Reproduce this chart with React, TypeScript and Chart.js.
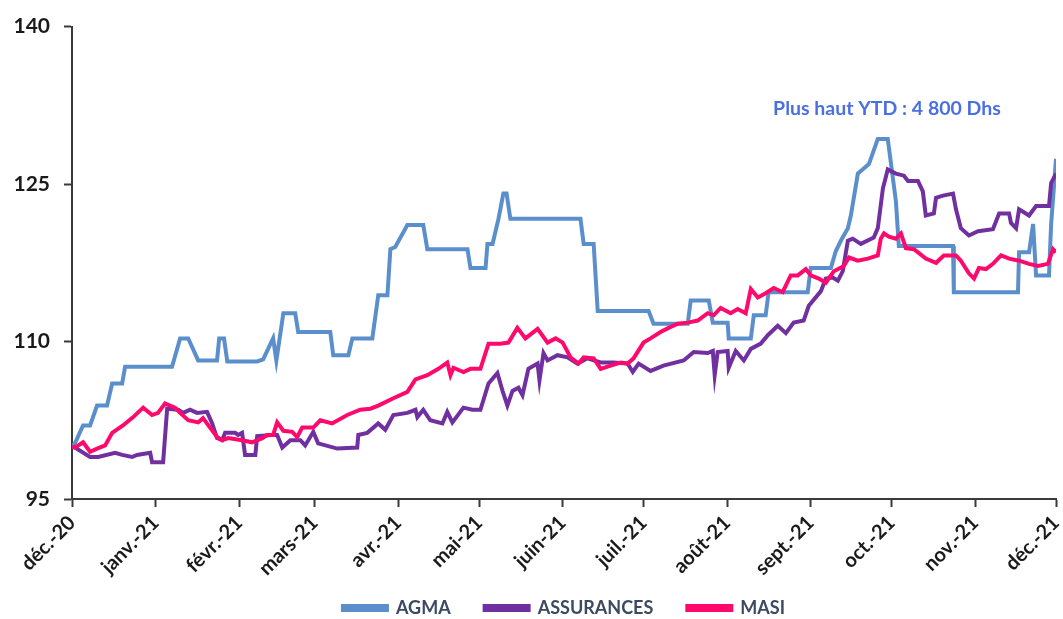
import React, { useEffect, useRef } from "react";
import { Chart, registerables } from "chart.js";

Chart.register(...registerables);

// Month ticks (day offsets from 1 Dec 2020) and labels
const monthDays = [0, 31, 62, 90, 121, 151, 182, 212, 243, 274, 304, 335, 365];
const monthLabels = ["déc.-20", "janv.-21", "févr.-21", "mars-21", "avr.-21", "mai-21", "juin-21", "juil.-21", "août-21", "sept.-21", "oct.-21", "nov.-21", "déc.-21"];
const yTicks = [95, 110, 125, 140];

const agmaDays = [0, 1.1, 4.1, 6.7, 9.3, 13.0, 14.9, 18.6, 19.7, 37.1, 40.1, 43.1, 46.8, 53.8, 54.6, 56.4, 57.6, 68.7, 70.9, 74.6, 75.8, 78.4, 82.8, 83.9, 95.8, 96.9, 102.5, 104.0, 111.4, 113.6, 117.0, 118.1, 119.9, 124.4, 130.3, 131.8, 146.7, 147.8, 153.4, 154.1, 156.0, 158.2, 160.0, 161.2, 162.6, 188.6, 189.8, 193.5, 195.0, 213.9, 215.7, 228.4, 229.5, 236.2, 237.7, 243.2, 243.6, 251.8, 252.9, 257.3, 258.4, 272.9, 274.0, 281.5, 283.3, 285.2, 287.8, 288.9, 291.5, 295.6, 298.9, 302.6, 305.6, 306.7, 326.8, 327.1, 350.9, 351.3, 355.0, 356.5, 357.6, 362.4, 363.2, 365.0];
const agmaValues = [100.0, 100.3, 102.0, 102.0, 103.9, 103.9, 106.0, 106.0, 107.6, 107.6, 110.3, 110.3, 108.2, 108.2, 110.3, 110.3, 108.1, 108.1, 108.3, 110.3, 108.2, 112.7, 112.7, 110.9, 110.9, 108.7, 108.7, 110.3, 110.3, 114.4, 114.4, 118.8, 119.0, 121.1, 121.1, 118.8, 118.8, 117.0, 117.0, 119.3, 119.3, 121.7, 124.1, 124.1, 121.7, 121.7, 119.3, 119.3, 112.9, 112.9, 111.7, 111.7, 113.9, 113.9, 111.8, 111.8, 110.3, 110.3, 112.5, 112.5, 114.7, 114.7, 117.0, 117.0, 118.6, 119.6, 120.8, 122.0, 126.0, 126.9, 129.3, 129.3, 123.4, 119.1, 119.1, 114.7, 114.7, 118.5, 118.5, 121.2, 116.3, 116.3, 121.2, 127.4];

const assurDays = [0, 1.1, 6.7, 9.7, 16.0, 18.6, 22.3, 24.1, 29.0, 29.7, 33.8, 35.3, 39.4, 41.2, 43.8, 46.4, 50.1, 52.0, 53.8, 55.7, 56.8, 60.5, 61.6, 63.1, 64.2, 68.0, 68.7, 74.3, 76.1, 78.0, 81.0, 84.7, 86.5, 89.5, 91.3, 98.4, 105.8, 106.2, 109.5, 113.6, 116.2, 119.2, 124.4, 127.4, 128.1, 130.3, 132.9, 137.4, 139.2, 141.1, 145.2, 148.5, 151.5, 154.5, 157.8, 159.7, 161.5, 163.4, 165.6, 167.1, 169.3, 172.7, 173.4, 174.9, 176.4, 180.1, 183.8, 187.5, 191.2, 196.1, 200.9, 206.1, 208.0, 210.2, 214.6, 219.4, 226.9, 230.6, 235.8, 237.7, 238.4, 239.5, 243.2, 243.6, 246.2, 249.2, 251.8, 255.5, 258.1, 261.8, 264.8, 267.7, 271.4, 273.3, 277.8, 279.6, 282.2, 284.1, 285.9, 287.8, 289.6, 292.6, 297.4, 298.9, 300.8, 302.6, 305.6, 308.6, 310.1, 313.8, 315.6, 316.7, 319.7, 320.5, 323.1, 326.8, 327.9, 329.7, 332.7, 336.1, 341.6, 343.9, 347.6, 348.3, 350.2, 351.3, 355.0, 357.6, 362.4, 363.2, 365.0];
const assurValues = [100.0, 99.9, 99.0, 99.0, 99.4, 99.2, 99.0, 99.2, 99.4, 98.5, 98.5, 103.6, 103.5, 103.2, 103.5, 103.2, 103.3, 102.2, 100.8, 100.6, 101.3, 101.3, 101.1, 101.3, 99.2, 99.2, 101.0, 101.1, 101.1, 99.9, 100.6, 100.6, 100.1, 101.4, 100.3, 99.8, 99.9, 101.1, 101.3, 102.2, 101.6, 103.0, 103.2, 103.5, 102.8, 103.5, 102.5, 102.2, 103.3, 102.3, 103.7, 103.5, 103.5, 106.0, 107.0, 105.3, 103.9, 105.3, 105.6, 104.9, 107.4, 107.9, 106.3, 108.9, 108.2, 108.7, 108.5, 107.9, 108.4, 108.0, 108.0, 107.9, 107.1, 107.9, 107.2, 107.7, 108.2, 109.0, 108.9, 109.1, 106.8, 109.0, 109.1, 107.5, 109.1, 108.2, 109.3, 109.8, 110.6, 111.5, 110.8, 111.8, 112.0, 113.4, 114.8, 116.0, 116.1, 115.8, 116.7, 119.6, 119.8, 119.3, 119.9, 120.8, 124.6, 126.4, 126.0, 125.8, 125.3, 125.3, 124.3, 122.0, 122.2, 123.7, 123.9, 124.1, 122.6, 120.8, 120.1, 120.5, 120.7, 122.2, 122.2, 121.3, 120.8, 122.6, 122.0, 122.9, 122.9, 125.1, 126.0];

const masiDays = [0, 1.1, 4.1, 6.7, 9.3, 12.3, 14.9, 18.9, 22.7, 26.4, 29.7, 31.9, 34.5, 38.2, 40.1, 43.1, 46.8, 48.6, 51.2, 53.8, 55.7, 57.9, 63.1, 66.8, 70.6, 72.4, 74.6, 76.1, 78.4, 81.7, 83.5, 85.4, 89.5, 92.1, 96.5, 102.1, 106.9, 110.7, 113.6, 119.2, 124.4, 127.4, 131.8, 135.9, 139.2, 140.4, 141.5, 145.2, 147.8, 151.5, 154.5, 158.9, 161.9, 165.2, 168.2, 172.7, 176.4, 179.4, 182.0, 184.9, 187.9, 189.8, 193.5, 196.1, 199.8, 203.5, 206.1, 208.3, 212.0, 214.6, 218.3, 221.3, 224.7, 228.4, 232.1, 235.8, 238.0, 240.6, 244.3, 246.9, 249.9, 251.8, 254.4, 257.3, 260.3, 263.6, 266.6, 269.2, 272.2, 274.0, 277.0, 279.6, 282.6, 286.3, 288.2, 291.5, 295.2, 298.9, 300.0, 301.2, 303.0, 305.6, 307.5, 309.3, 312.3, 316.7, 320.5, 323.4, 327.9, 329.7, 332.7, 334.6, 336.4, 339.0, 341.6, 344.6, 347.6, 351.3, 355.0, 358.3, 362.0, 363.9, 365.0];
const masiValues = [100.0, 99.9, 100.4, 99.5, 99.8, 100.1, 101.3, 102.0, 102.8, 103.7, 103.0, 103.2, 104.1, 103.7, 103.2, 102.5, 102.3, 102.7, 101.8, 100.9, 100.6, 100.8, 100.6, 100.4, 100.8, 101.1, 101.1, 102.3, 101.5, 101.4, 100.9, 101.8, 101.8, 102.5, 102.2, 103.0, 103.5, 103.6, 103.9, 104.6, 105.2, 106.4, 106.8, 107.4, 108.0, 106.8, 107.5, 107.1, 107.4, 107.4, 109.8, 109.8, 109.9, 111.3, 110.3, 111.2, 109.9, 110.3, 109.9, 108.5, 107.9, 108.5, 108.4, 107.4, 107.7, 108.0, 107.9, 108.4, 109.9, 110.3, 110.9, 111.3, 111.7, 111.8, 112.0, 112.7, 112.5, 113.2, 112.7, 113.1, 112.7, 115.0, 114.2, 114.6, 115.1, 114.7, 116.3, 116.3, 116.9, 116.3, 116.0, 115.6, 116.7, 117.2, 118.0, 117.7, 117.9, 118.2, 119.8, 120.3, 120.0, 119.8, 120.3, 118.9, 118.8, 117.9, 117.5, 118.2, 118.2, 117.7, 116.5, 116.0, 117.0, 116.9, 117.4, 118.2, 117.9, 117.7, 117.4, 117.2, 117.4, 118.8, 118.5];

const annotationText = "Plus haut YTD : 4 800 Dhs";
const annotationDay = 302.3;
const annotationValue = 132.2;

function pairs(days: number[], values: number[]) {
  return days.map((d, i) => ({ x: d, y: values[i] }));
}

export default function App() {
  const ref = useRef<HTMLCanvasElement | null>(null);

  useEffect(() => {
    document.body.style.margin = "0";
    const canvas = ref.current;
    if (!canvas) return;
    const axisColor = "#3a3a3a";
    const font = "Lato, 'Open Sans', sans-serif";

    const annotationPlugin = {
      id: "ytdNote",
      afterDatasetsDraw(chart: any) {
        const { ctx, scales } = chart;
        const x = scales.x.getPixelForValue(annotationDay);
        const y = scales.y.getPixelForValue(annotationValue);
        ctx.save();
        ctx.font = `bold 19.5px ${font}`;
        ctx.fillStyle = "#4a6fe3";
        ctx.textAlign = "center";
        ctx.textBaseline = "middle";
        ctx.fillText(annotationText, x, y);
        ctx.restore();
      },
    };

    const chart = new Chart(canvas, {
      type: "line",
      data: {
        datasets: [
          {
            label: "AGMA",
            data: pairs(agmaDays, agmaValues),
            borderColor: "#5b8fcc",
            backgroundColor: "#5b8fcc",
            borderWidth: 4,
            pointRadius: 0,
            tension: 0,
            order: 3,
          },
          {
            label: "ASSURANCES",
            data: pairs(assurDays, assurValues),
            borderColor: "#7030a0",
            backgroundColor: "#7030a0",
            borderWidth: 4,
            pointRadius: 0,
            tension: 0,
            order: 2,
          },
          {
            label: "MASI",
            data: pairs(masiDays, masiValues),
            borderColor: "#ff0a6c",
            backgroundColor: "#ff0a6c",
            borderWidth: 4,
            pointRadius: 0,
            tension: 0,
            order: 1,
          },
        ],
      },
      options: {
        animation: false,
        responsive: false,
        devicePixelRatio: 1,
        layout: { padding: { left: 0, right: 7, top: 16, bottom: -8 } },
        plugins: {
          tooltip: { enabled: false },
          legend: {
            position: "bottom",
            fullSize: false,
            labels: {
              boxWidth: 44,
              boxHeight: 4,
              padding: 34,
              color: "#3b4a60",
              font: { family: font, size: 18, weight: "bold" },
              sort: (a: any, b: any) => a.datasetIndex - b.datasetIndex,
            },
          },
        },
        scales: {
          x: {
            type: "linear",
            min: 0,
            max: 365,
            afterBuildTicks: (scale: any) => {
              scale.ticks = monthDays.map((v) => ({ value: v }));
            },
            afterFit: (scale: any) => {
              scale.height = 66;
              scale.paddingRight = 0;
              // let the rotated month labels run below the axis box
              scale._computeLabelArea = () => undefined;
            },
            ticks: {
              autoSkip: false,
              maxRotation: 45,
              minRotation: 45,
              padding: 4,
              color: "#1a1a1a",
              font: { family: font, size: 20, weight: "bold" },
              callback: (value: any) => {
                const i = monthDays.indexOf(Number(value));
                return i >= 0 ? monthLabels[i] : "";
              },
            },
            grid: {
              display: true,
              drawOnChartArea: false,
              drawTicks: true,
              tickLength: 8,
              tickColor: axisColor,
              tickWidth: 2,
            },
            border: { display: true, color: axisColor, width: 2 },
          },
          y: {
            min: 95,
            max: 140,
            afterBuildTicks: (scale: any) => {
              scale.ticks = yTicks.map((v) => ({ value: v }));
            },
            afterFit: (scale: any) => {
              scale.width = 72;
            },
            ticks: {
              padding: 14,
              color: "#1a1a1a",
              font: { family: font, size: 21, weight: "bold" },
            },
            grid: {
              display: true,
              drawOnChartArea: false,
              drawTicks: true,
              tickLength: 8,
              tickColor: axisColor,
              tickWidth: 2,
            },
            border: { display: true, color: axisColor, width: 2 },
          },
        },
      },
      plugins: [annotationPlugin],
    } as any);

    return () => {
      chart.destroy();
    };
  }, []);

  return (
    <div style={{ width: 1063, height: 619 }}>
      <canvas ref={ref} width={1063} height={619} style={{ display: "block" }} />
    </div>
  );
}
